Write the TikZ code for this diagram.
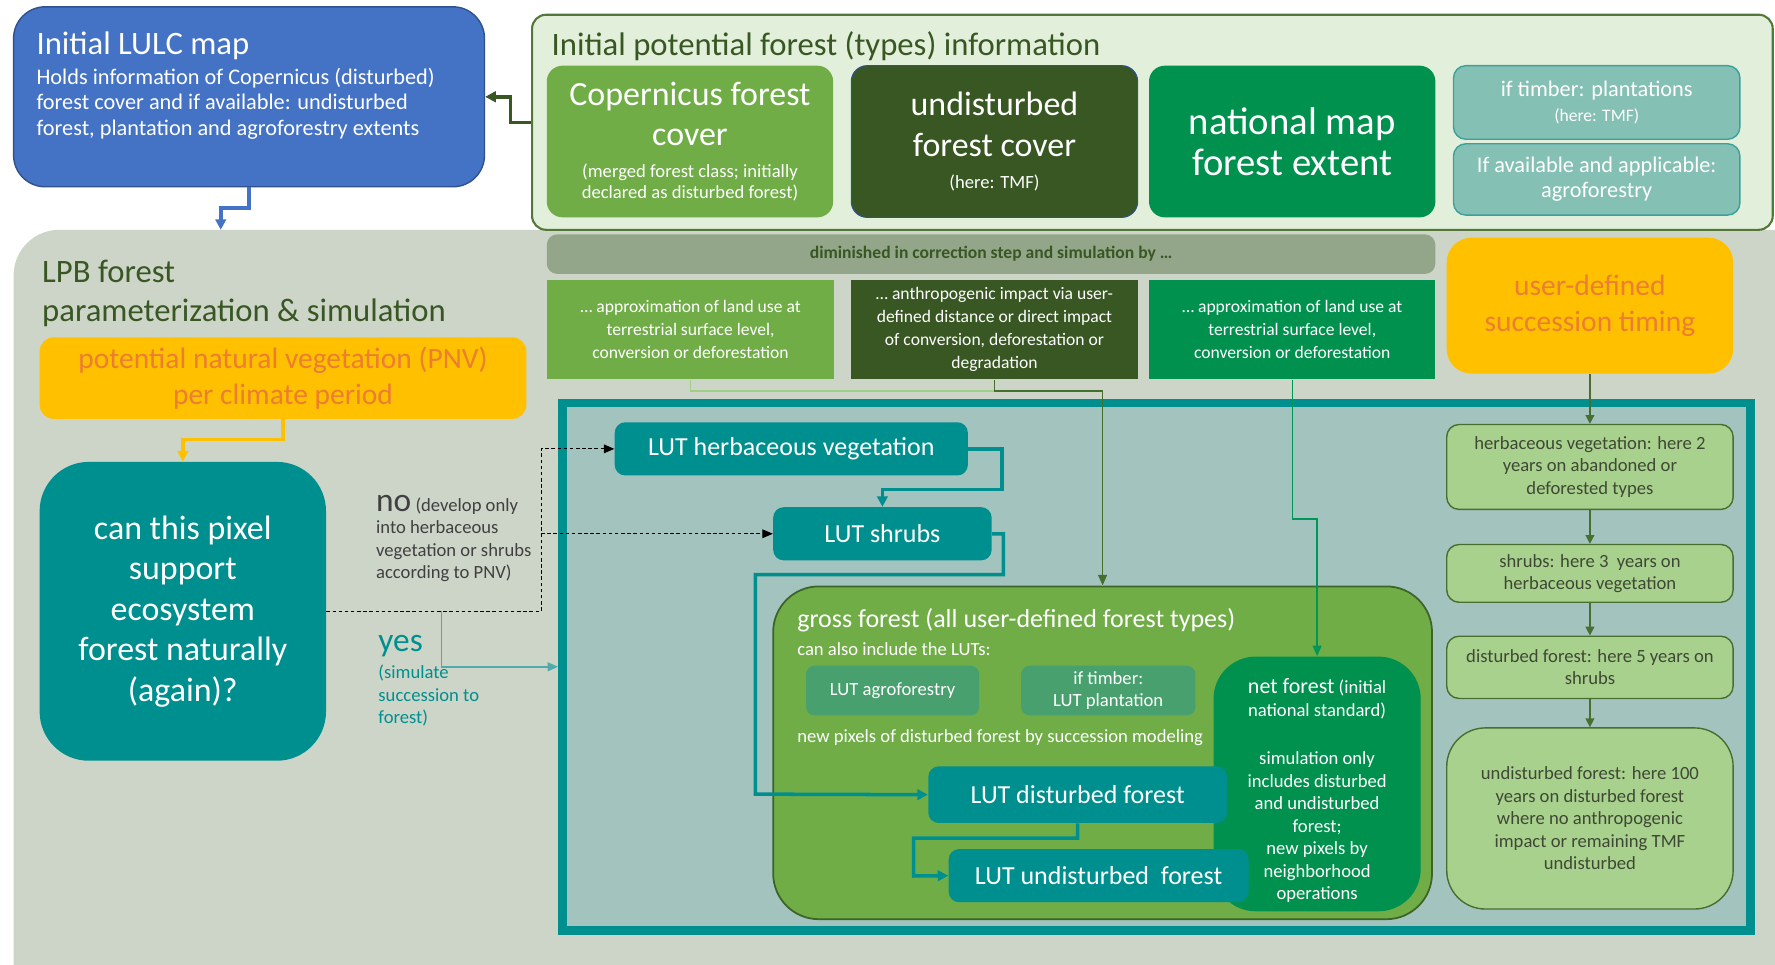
\documentclass[tikz,border=0pt]{standalone}
\usepackage{fontspec}
\setmainfont{Carlito}
\usetikzlibrary{arrows.meta, positioning, calc}

\definecolor{lulcblue}{RGB}{68,114,196}
\definecolor{lulcedge}{RGB}{47,82,143}
\definecolor{infobg}{RGB}{226,239,218}
\definecolor{infoedge}{RGB}{84,120,58}
\definecolor{titlegreen}{RGB}{56,87,35}
\definecolor{copgreen}{RGB}{112,173,71}
\definecolor{undgreen}{RGB}{56,87,35}
\definecolor{natgreen}{RGB}{0,145,78}
\definecolor{timberteal}{RGB}{133,192,180}
\definecolor{timberedge}{RGB}{60,160,155}
\definecolor{lpbgray}{RGB}{205,213,200}
\definecolor{dimgray}{RGB}{148,166,138}
\definecolor{pnvgold}{RGB}{255,192,0}
\definecolor{pnvorange}{RGB}{237,125,49}
\definecolor{lutteal}{RGB}{0,143,143}
\definecolor{framebg}{RGB}{163,196,190}
\definecolor{lutgreen}{RGB}{72,160,110}
\definecolor{grossedge}{RGB}{61,100,40}
\definecolor{stagegreen}{RGB}{169,209,142}
\definecolor{stageedge}{RGB}{72,110,48}
\definecolor{stagetext}{RGB}{62,72,52}
\definecolor{nogray}{RGB}{64,64,64}
\definecolor{yesteal}{RGB}{80,172,172}
\definecolor{linklight}{RGB}{160,205,135}
\definecolor{linkdark}{RGB}{70,110,45}
\definecolor{linknat}{RGB}{0,150,85}

\newlength{\px}
\setlength{\px}{0.2264mm}
\newcommand{\ftitle}{\fontsize{18.6pt}{22.5pt}\selectfont}
\newcommand{\fbig}{\fontsize{19.3pt}{23pt}\selectfont}
\newcommand{\fmap}{\fontsize{22pt}{23pt}\selectfont}
\newcommand{\fpnv}{\fontsize{16.8pt}{20.5pt}\selectfont}
\newcommand{\fmid}{\fontsize{14.8pt}{17pt}\selectfont}
\newcommand{\fbody}{\fontsize{12.7pt}{14.4pt}\selectfont}
\newcommand{\fsmall}{\fontsize{10.6pt}{12.8pt}\selectfont}
\newcommand{\fnote}{\fontsize{10pt}{13pt}\selectfont}
\newcommand{\fnetf}{\fontsize{12.5pt}{13pt}\selectfont}
\newcommand{\fword}{\fontsize{19pt}{20pt}\selectfont}

\begin{document}
\begin{tikzpicture}[x=0.2264mm, y=-0.2264mm,
  every node/.style={inner sep=0pt},
  plainbox/.style={align=center, text=white},
  mapbox/.style={plainbox, rounded corners=9pt, minimum width=253*\px, minimum height=134*\px, font=\fbig},
  infosmall/.style={plainbox, fill=timberteal, draw=timberedge, line width=0.8pt, rounded corners=7pt, minimum width=253*\px, font=\fbody},
  approxbox/.style={plainbox, minimum width=253*\px, minimum height=88*\px, font=\fnote},
  goldbox/.style={plainbox, fill=pnvgold, text=pnvorange, rounded corners=8pt, font=\fpnv},
  lutbox/.style={plainbox, fill=lutteal, rounded corners=6pt, font=\fmid},
  lutgreenbox/.style={plainbox, fill=lutgreen, rounded corners=5pt, minimum width=153*\px, minimum height=44*\px, font=\fsmall},
  stagebox/.style={align=center, fill=stagegreen, draw=stageedge, line width=0.8pt, text=stagetext, rounded corners=7pt, minimum width=253*\px, font=\fsmall},
  lulclink/.style={lulcblue, line width=2pt, -{Triangle[length=6pt,width=6pt]}},
  infolink/.style={titlegreen, line width=2pt, -{Triangle[length=6pt,width=6pt]}},
  pnvlink/.style={pnvgold, line width=2pt, -{Triangle[length=6pt,width=6pt]}},
  nolink/.style={black, line width=0.6pt, dash pattern=on 2pt off 1.5pt, -{Triangle[length=6pt,width=5pt]}},
  yeslink/.style={yesteal, line width=0.9pt, -{Triangle[length=6pt,width=5pt]}},
  lutlink/.style={lutteal, line width=2pt, -{Triangle[length=6pt,width=6pt]}},
  stagelink/.style={stageedge, line width=0.8pt, -{Triangle[length=5pt,width=5pt]}}]

  % page
  \fill[white] (0,0) rectangle (1568,852);
  \useasboundingbox (0,0) rectangle (1568,852);
  \clip (0,0) rectangle (1568,852);

  % LPB container
  \node[fill=lpbgray, rounded corners=26pt, minimum width=1600*\px, minimum height=700*\px] (lpb) at (812,553) {};
  \node[anchor=north west, text=titlegreen, font=\ftitle, align=left] (lpbtitle) at (37,229) {LPB forest\\parameterization \& simulation};

  % initial information
  \node[fill=infobg, draw=infoedge, line width=1.2pt, rounded corners=8pt, minimum width=1096*\px, minimum height=190*\px] (info) at (1018,108) {};
  \node[anchor=base west, text=titlegreen, font=\ftitle] (infotitle) at (487,49) {Initial potential forest (types) information};

  \node[fill=lulcblue, draw=lulcedge, line width=0.8pt, rounded corners=18pt, minimum width=416*\px, minimum height=159*\px] (lulc) at (220,85.5) {};
  \node[anchor=base west, text=white, font=\ftitle] (lulctitle) at (32,48) {Initial LULC map};
  \node[anchor=north west, text=white, font=\fbody, align=left] (lulctext) at (32,60) {Holds information of Copernicus (disturbed)\\forest cover and if available: undisturbed\\forest, plantation and agroforestry extents};

  \node[mapbox, fill=copgreen] (cop) at (609.5,125) {Copernicus forest\\cover\\[-5pt]{\fsmall (merged forest class; initially}\\[-10.8pt]{\fsmall declared as disturbed forest)}};
  \node[mapbox, fill=undgreen, draw=lulcedge, line width=0.6pt] (undcover) at (878.5,125) {undisturbed\\forest cover\\[-5pt]{\fsmall (here: TMF)}};
  \node[mapbox, fill=natgreen, font=\fmap] (natmap) at (1141.5,125) {national map\\forest extent};
  \node[infosmall, minimum height=65*\px] (timber) at (1410.5,90.5) {if timber: plantations\\{\fnote (here: TMF)}};
  \node[infosmall, minimum height=63*\px] (agroinfo) at (1410.5,158.5) {If available and applicable:\\agroforestry};

  \coordinate (lpbin) at (195,203);
  \draw[lulclink] (lulc.south) -- ++(0,18) -| (lpbin);
  \draw[infolink] (info.west) -- ++(-18,0) |- (lulc.east);

  % correction step
  \node[fill=dimgray, rounded corners=6pt, minimum width=785*\px, minimum height=35*\px, text=titlegreen, font=\fnote\bfseries] (dimbar) at (875.5,224.5) {diminished in correction step and simulation by \ldots};
  \node[approxbox, fill=copgreen] (appr1) at (610,291) {\ldots{} approximation of land use at\\terrestrial surface level,\\conversion or deforestation};
  \node[approxbox, fill=undgreen] (appr2) at (878.5,291) {\ldots{} anthropogenic impact via user-\\defined distance or direct impact\\of conversion, deforestation or\\degradation};
  \node[approxbox, fill=natgreen] (appr3) at (1141.5,291) {\ldots{} approximation of land use at\\terrestrial surface level,\\conversion or deforestation};
  \node[goldbox, rounded corners=14pt, minimum width=253*\px, minimum height=120*\px] (timing) at (1404.5,270) {user-defined\\succession timing};

  % PNV decision
  \node[goldbox, minimum width=430*\px, minimum height=72*\px] (pnv) at (250,334) {potential natural vegetation (PNV)\\per climate period};
  \node[plainbox, fill=lutteal, rounded corners=28pt, minimum width=253*\px, minimum height=264*\px, font=\fbig] (quest) at (161.5,540) {can this pixel\\support\\ecosystem\\forest naturally\\(again)?};
  \draw[pnvlink] (pnv.south) -- ++(0,18) -| (quest.north);

  \node[anchor=north west, align=left, text=nogray, font=\fsmall] (nolabel) at (332,437) {{\fword no} (develop only\\into herbaceous\\vegetation or shrubs\\according to PNV)};
  \node[anchor=north west, align=left, text=lutteal, font=\fsmall] (yeslabel) at (334,561) {{\fword yes}\\[2.6pt](simulate\\succession to\\forest)};

  % simulation frame
  \node[draw=lutteal, line width=5pt, fill=framebg, minimum width=1049*\px, minimum height=466*\px] (frame) at (1021.5,589) {};

  \node[lutbox, minimum width=312*\px, minimum height=47*\px] (herb) at (699,396.5) {LUT herbaceous vegetation};
  \node[lutbox, minimum width=193*\px, minimum height=47*\px] (shrubs) at (779.5,471.5) {LUT shrubs};

  \node[fill=copgreen, draw=grossedge, line width=1pt, rounded corners=26pt, minimum width=582*\px, minimum height=294*\px] (gross) at (974,665) {};
  \node[anchor=west, text=white, font=\fmid] (grosstitle) at (704,548) {gross forest (all user-defined forest types)};
  \node[anchor=west, text=white, font=\fsmall] (grosssub) at (704,573) {can also include the LUTs:};
  \node[lutgreenbox] (lutagro) at (788.5,610) {LUT agroforestry};
  \node[lutgreenbox, minimum width=154*\px] (lutplant) at (979,610) {if timber:\\LUT plantation};
  \node[anchor=west, text=white, font=\fsmall] (newpix) at (704,652) {new pixels of disturbed forest by succession modeling};

  \node[fill=natgreen, rounded corners=24pt, minimum width=183*\px, minimum height=225*\px] (net) at (1163.5,692.5) {};
  \node[anchor=north, plainbox, font=\fsmall] (nettext) at (1163.5,599) {{\fnetf net forest} (initial\\national standard)\\[15pt]simulation only\\includes disturbed\\and undisturbed\\forest;\\new pixels by\\neighborhood\\operations};

  \node[lutbox, minimum width=264*\px, minimum height=50*\px] (dist) at (952,702) {LUT disturbed forest};
  \node[lutbox, minimum width=265*\px, minimum height=47*\px] (undist) at (970.5,773.5) {LUT undisturbed\ \ forest};

  % succession stages
  \node[stagebox, minimum height=75*\px] (stherb) at (1404.5,412.5) {herbaceous vegetation: here 2\\years on abandoned or\\deforested types};
  \node[stagebox, minimum height=51*\px] (stshrub) at (1404.5,506.5) {shrubs: here 3\ \ years on\\herbaceous vegetation};
  \node[stagebox, minimum height=55*\px] (stdist) at (1404.5,589.5) {disturbed forest: here 5 years on\\shrubs};
  \node[stagebox, rounded corners=22pt, minimum height=160*\px] (stund) at (1404.5,723) {undisturbed forest: here 100\\years on disturbed forest\\where no anthropogenic\\impact or remaining TMF\\undisturbed};

  % connectors
  \coordinate (nobend) at (478,540);
  \coordinate (yesfork) at (390,540);
  \draw[nolink] (quest.east) -- (nobend) |- (herb.west);
  \draw[nolink] (nobend |- shrubs.west) -- (shrubs.west);
  \draw[yeslink] (yesfork) |- (frame.west);

  \draw[lutlink] (herb.east) -| ++(30,36) -| (shrubs.north);
  \draw[lutlink] (shrubs.east) -| ++(10,36) -| ++(-219,194) -- (dist.west);
  \draw[lutlink] (dist.south) -- ++(0,13) -| ++(-145,33.5) -- (undist.west);

  \draw[linklight, line width=0.8pt] (appr1.south) -- ++(0,10) -| (gross.north);
  \draw[linkdark, line width=0.8pt, -{Triangle[length=6pt,width=5pt]}] (appr2.south) -- ++(0,10) -| (gross.north);
  \draw[linknat, line width=0.8pt, -{Triangle[length=6pt,width=5pt]}] (appr3.south) -- ++(0,123) -| (net.north);

  \draw[stagelink] (timing.south) -- (stherb.north);
  \draw[stagelink] (stherb.south) -- (stshrub.north);
  \draw[stagelink] (stshrub.south) -- (stdist.north);
  \draw[stagelink] (stdist.south) -- (stund.north);
\end{tikzpicture}
\end{document}
